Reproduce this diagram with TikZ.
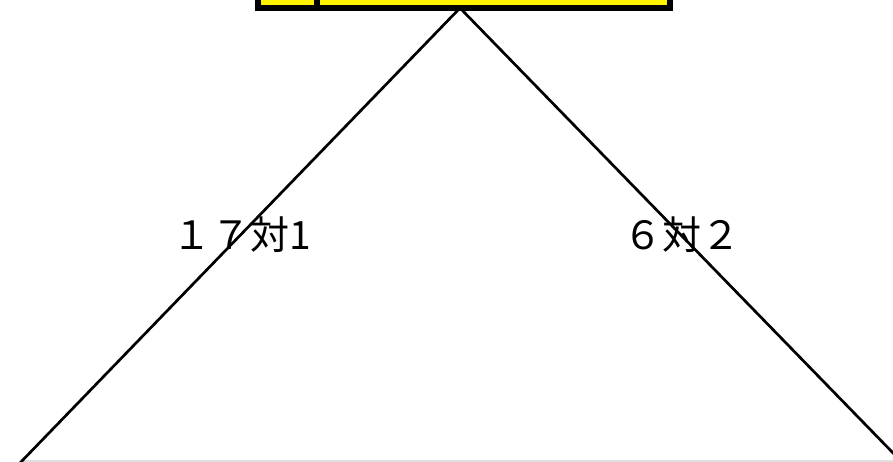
\documentclass[tikz,border=0pt]{standalone}
\usepackage{fontspec}
\newfontfamily\cjk{Noto Sans CJK JP}
\begin{document}
\begin{tikzpicture}[x=1pt,y=-1pt,
  ybox/.style={draw=black,fill=yellow,line width=6pt,inner sep=0pt,anchor=north west},
  edge/.style={draw=black,line width=2.7pt},
  lbl/.style={font=\cjk\fontsize{39}{39}\selectfont,inner sep=0pt}]
\useasboundingbox (0,0) rectangle (893,462);
\node[ybox,minimum width=59pt,minimum height=14pt] (b1) at (255,-8.5) {};
\node[ybox,minimum width=353pt,minimum height=14pt] (b2) at (314,-8.5) {};
\coordinate (apex) at (460,8);
\coordinate (bl) at (19,464);
\coordinate (br) at (895,455);
\draw[gray!25,line width=1.2pt] (20,461) -- (893,461);
\draw[edge] (apex) -- (bl);
\draw[edge] (apex) -- (br);
\node[lbl] (l1) at (242,235) {１７対1};
\node[lbl] (l2) at (682,235) {６対２};
\end{tikzpicture}
\end{document}
